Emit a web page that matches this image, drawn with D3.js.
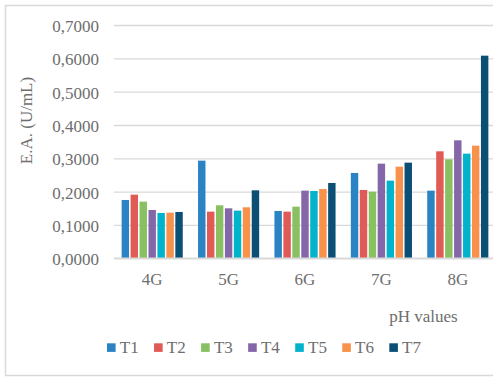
<!DOCTYPE html>
<html>
<head>
<meta charset="utf-8">
<script src="https://cdn.jsdelivr.net/npm/d3@7"></script>
<style>
  html, body { margin: 0; padding: 0; background: #fff; }
  svg { display: block; }
  text { font-family: "Liberation Serif", "Times New Roman", serif; fill: #6e6e6e; }
</style>
</head>
<body>
<svg id="chart" width="493" height="377"></svg>
<script>
// pH groups on the x axis
const categories = ["4G", "5G", "6G", "7G", "8G"];
// treatments (one bar per treatment in each group)
const seriesNames = ["T1", "T2", "T3", "T4", "T5", "T6", "T7"];
// enzyme activity (U/mL), one array per treatment, ordered as categories
const T1 = [0.175, 0.293, 0.142, 0.256, 0.203];
const T2 = [0.191, 0.140, 0.140, 0.205, 0.321];
const T3 = [0.170, 0.159, 0.155, 0.200, 0.297];
const T4 = [0.145, 0.150, 0.203, 0.284, 0.354];
const T5 = [0.136, 0.143, 0.202, 0.233, 0.314];
const T6 = [0.137, 0.153, 0.208, 0.275, 0.338];
const T7 = [0.139, 0.204, 0.226, 0.287, 0.608];
const yTicks = [0, 0.1, 0.2, 0.3, 0.4, 0.5, 0.6, 0.7];
const colors = ["#2a83c2", "#e05a56", "#88c062", "#8567a9", "#02b4cb", "#f7914c", "#0b4f76"];

const seriesValues = [T1, T2, T3, T4, T5, T6, T7];
const textColor = "#6e6e6e";

const svg = d3.select("#chart");

// outer chart frame
svg.append("rect")
  .attr("x", 5.5).attr("y", 5.5)
  .attr("width", 500).attr("height", 370)
  .attr("fill", "#fff")
  .attr("stroke", "#d9d9d9").attr("stroke-width", 1.5);

const plot = { left: 114, right: 496, top: 25, bottom: 258.3 };

const x = d3.scaleBand()
  .domain(categories)
  .range([plot.left, plot.right])
  .paddingInner(0.2)
  .paddingOuter(0.1);

const xs = d3.scaleBand()
  .domain(seriesNames)
  .range([0, x.bandwidth()])
  .paddingInner(0.17)
  .paddingOuter(0);

const y = d3.scaleLinear()
  .domain([0, 0.7])
  .range([plot.bottom, plot.top]);

const fmt = v => d3.format(".4f")(v).replace(".", ",");

// horizontal gridlines and value labels
const yAxis = d3.axisLeft(y)
  .tickValues(yTicks)
  .tickFormat(fmt)
  .tickSize(-(plot.right - plot.left))
  .tickPadding(15);

const gy = svg.append("g")
  .attr("transform", `translate(${plot.left},0)`)
  .call(yAxis);
gy.select(".domain").remove();
gy.selectAll(".tick line").attr("stroke", "#d9d9d9").attr("stroke-width", 1.3);
gy.selectAll(".tick text")
  .attr("font-size", 17)
  .attr("font-family", "Liberation Serif, serif")
  .attr("fill", textColor)
  .attr("dy", "0.38em");

// bars
const groups = svg.append("g").selectAll("g")
  .data(categories)
  .join("g")
  .attr("transform", d => `translate(${x(d)},0)`);

groups.selectAll("rect")
  .data((c, ci) => seriesNames.map((s, si) => ({ s, si, v: seriesValues[si][ci] })))
  .join("rect")
  .attr("x", d => xs(d.s))
  .attr("width", xs.bandwidth())
  .attr("y", d => y(d.v))
  .attr("height", d => y(0) - y(d.v))
  .attr("fill", d => colors[d.si]);

// baseline
svg.append("line")
  .attr("x1", plot.left).attr("x2", plot.right)
  .attr("y1", y(0)).attr("y2", y(0))
  .attr("stroke", "#d9d9d9").attr("stroke-width", 1.5);

// category labels
const xAxis = d3.axisBottom(x).tickSize(0).tickPadding(0);
const gx = svg.append("g")
  .attr("transform", `translate(0,${plot.bottom})`)
  .call(xAxis);
gx.select(".domain").remove();
gx.selectAll(".tick text")
  .attr("font-size", 17)
  .attr("font-family", "Liberation Serif, serif")
  .attr("fill", textColor)
  .attr("y", 0)
  .attr("dy", 26.7);

// axis titles
svg.append("text")
  .attr("transform", "translate(31.5,120.5) rotate(-90)")
  .attr("text-anchor", "middle")
  .attr("font-size", 17)
  .text("E.A. (U/mL)");

svg.append("text")
  .attr("x", 457.7).attr("y", 321.7)
  .attr("text-anchor", "end")
  .attr("font-size", 17)
  .text("pH values");

// legend
const legend = svg.append("g").selectAll("g")
  .data(seriesNames)
  .join("g")
  .attr("transform", (d, i) => `translate(${107 + i * 47.05},343.3)`);
legend.append("rect")
  .attr("width", 8.6).attr("height", 8.6)
  .attr("fill", (d, i) => colors[i]);
legend.append("text")
  .attr("x", 12.8).attr("y", 10)
  .attr("font-size", 17)
  .text(d => d);
</script>
</body>
</html>
